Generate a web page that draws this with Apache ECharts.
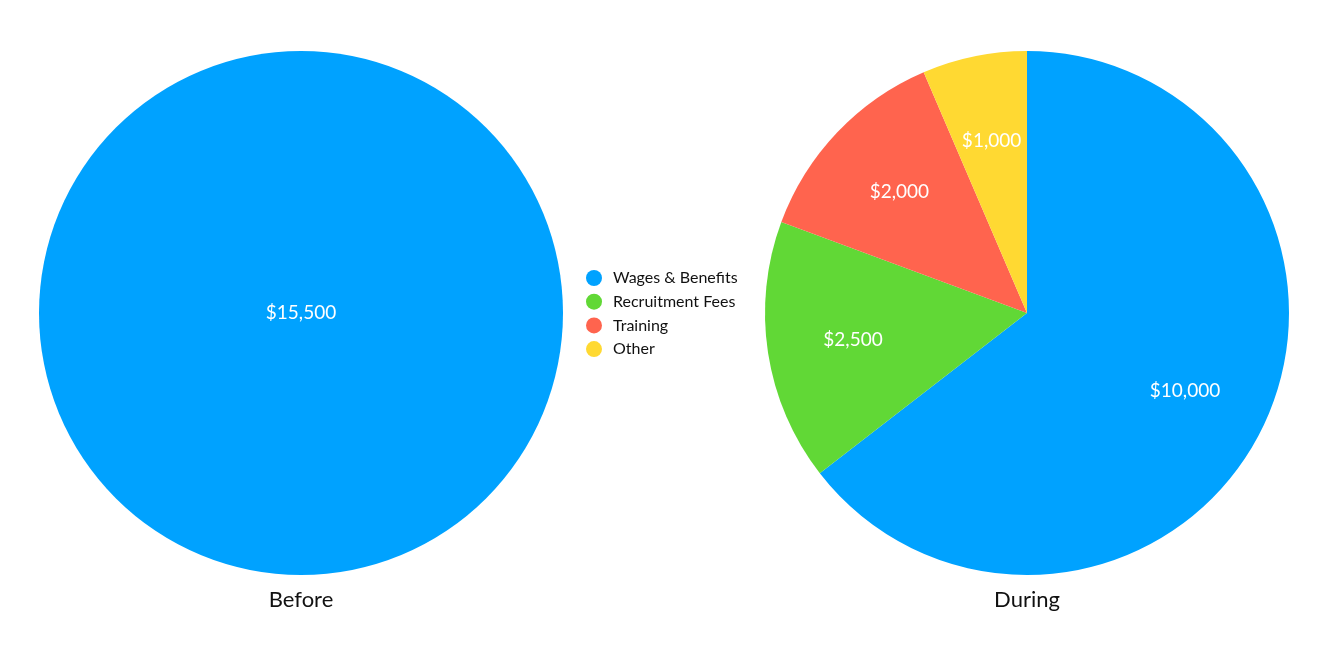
<!DOCTYPE html>
<html>
<head>
    <meta charset="UTF-8">
    <title>Before / During</title>
    <script src="https://cdn.jsdelivr.net/npm/echarts@6/dist/echarts.min.js"></script>
    <style>
        html, body { margin: 0; padding: 0; background: #fff; }
        #chart { width: 1335px; height: 649px; }
    </style>
</head>
<body>
    <div id="chart"></div>
    <script>
        var categories = ['Wages & Benefits', 'Recruitment Fees', 'Training', 'Other'];
        var colors = ['#00A2FF', '#61D836', '#FF644E', '#FFD932'];
        var beforeValues = [15500];
        var duringValues = [10000, 2500, 2000, 1000];
        var pieTitles = ['Before', 'During'];

        function money(v) {
            return '$' + v.toString().replace(/\B(?=(\d{3})+(?!\d))/g, ',');
        }

        var font = 'Lato, "Noto Sans", sans-serif';
        var chart = echarts.init(document.getElementById('chart'));

        var duringData = categories.map(function(name, i) {
            return {name: name, value: duringValues[i], itemStyle: {color: colors[i]}};
        });

        option = {
            animation: false,
            title: [
                {text: pieTitles[0], left: 296, top: 584, textAlign: 'center',
                    textStyle: {fontFamily: font, fontSize: 22, fontWeight: 'normal', color: '#111'}},
                {text: pieTitles[1], left: 1022, top: 584, textAlign: 'center',
                    textStyle: {fontFamily: font, fontSize: 22, fontWeight: 'normal', color: '#111'}}
            ],
            legend: {
                data: categories,
                orient: 'vertical',
                left: 581,
                top: 265,
                icon: 'circle',
                itemWidth: 28,
                itemHeight: 16,
                itemGap: 7.7,
                selectedMode: false,
                textStyle: {fontFamily: font, fontSize: 16, color: '#111'}
            },
            series: [
                {
                    name: 'Before',
                    type: 'pie',
                    center: [301, 313],
                    radius: [0, 262],
                    startAngle: 90,
                    clockwise: true,
                    silent: true,
                    data: [{name: categories[0], value: beforeValues[0], itemStyle: {color: colors[0]}}],
                    label: {
                        position: 'center',
                        formatter: function(p) { return money(p.value); },
                        color: '#fff',
                        fontFamily: font,
                        fontSize: 19,
                        padding: [4, 0, 0, 0]
                    },
                    labelLine: {show: false}
                },
                {
                    name: 'During',
                    type: 'pie',
                    center: [1027, 313],
                    radius: [0, 262],
                    startAngle: 90,
                    clockwise: true,
                    silent: true,
                    data: duringData,
                    label: {show: false},
                    labelLine: {show: false}
                },
                {
                    // label ring only, so labels sit at ~2/3 of the radius
                    name: 'During labels',
                    type: 'pie',
                    center: [1027, 313],
                    radius: [84, 262],
                    startAngle: 90,
                    clockwise: true,
                    silent: true,
                    data: categories.map(function(name, i) {
                        return {name: name, value: duringValues[i], itemStyle: {color: 'rgba(0,0,0,0)'}};
                    }),
                    itemStyle: {color: 'rgba(0,0,0,0)'},
                    label: {
                        position: 'inside',
                        formatter: function(p) { return money(p.value); },
                        color: '#fff',
                        fontFamily: font,
                        fontSize: 19
                    },
                    labelLine: {show: false}
                }
            ]
        };
        chart.setOption(option, true);
    </script>
</body>
</html>
